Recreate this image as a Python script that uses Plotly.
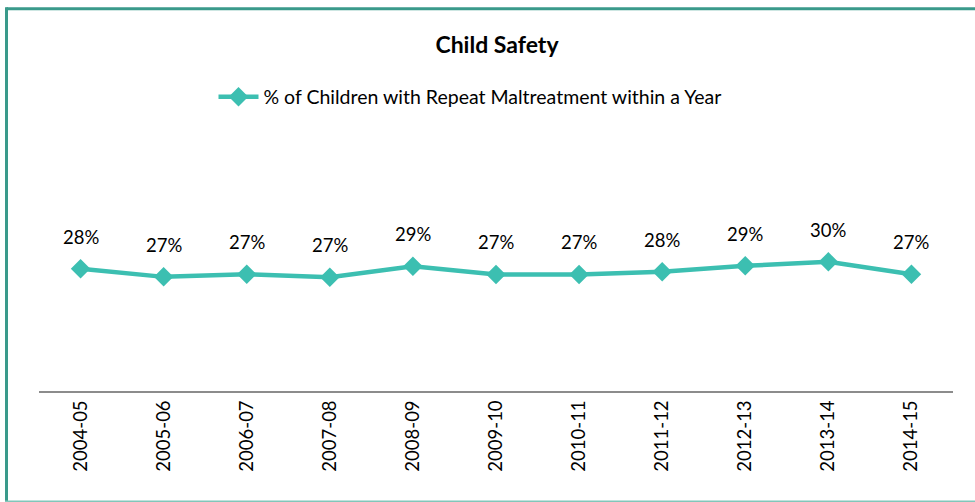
import plotly.graph_objects as go

years = ["2004-05", "2005-06", "2006-07", "2007-08", "2008-09", "2009-10",
         "2010-11", "2011-12", "2012-13", "2013-14", "2014-15"]
repeat_pct = [0.2822, 0.2662, 0.2716, 0.2655, 0.2876, 0.2710,
              0.2710, 0.2762, 0.2882, 0.2962, 0.2716]
series_name = "% of Children with Repeat Maltreatment within a Year"
title_text = "Child Safety"

LINE = "#3cbfb1"
FONT = "Lato"

fig = go.Figure()
fig.add_trace(go.Scatter(
    x=years, y=repeat_pct, mode="lines+markers", name=series_name,
    line=dict(color=LINE, width=4.5),
    marker=dict(symbol="diamond", size=15, color=LINE),
    showlegend=True,
))

for xv, yv in zip(years, repeat_pct):
    fig.add_annotation(x=xv, y=yv, text=f"{round(yv*100):.0f}%", showarrow=False,
                       yanchor="bottom", yshift=19,
                       font=dict(family=FONT, size=18.5, color="#000000"))

# plot area: x 39..953, y 130..390.7
W, H = 975, 502
ml, mr, mt, mb = 39, 22, 130, 111.3
pw, ph = W - ml - mr, H - mt - mb

def px(p):
    return (p - ml) / pw

def py(p):
    return (H - mb - p) / ph

dark = "#3a9a8b"
light = "#82c6ba"
fig.add_shape(type="line", xref="paper", yref="paper", x0=px(6.5), x1=px(980), y0=py(9), y1=py(9),
              line=dict(color=dark, width=3))
fig.add_shape(type="line", xref="paper", yref="paper", x0=px(6.5), x1=px(6.5), y0=py(7.5), y1=py(501),
              line=dict(color=dark, width=3))
fig.add_shape(type="line", xref="paper", yref="paper", x0=px(5), x1=px(980), y0=py(501), y1=py(501),
              line=dict(color=light, width=2))

fig.update_layout(
    width=W, height=H,
    margin=dict(l=ml, r=mr, t=mt, b=mb),
    paper_bgcolor="white", plot_bgcolor="white",
    title=dict(text=f"<b>{title_text}</b>", x=497 / W, xanchor="center", y=1 - 45 / H, yanchor="middle",
               font=dict(family=FONT, size=23, color="#000000")),
    legend=dict(orientation="h", x=px(470), xanchor="center", y=py(97), yanchor="middle",
                font=dict(family=FONT, size=19.5, color="#000000"), bgcolor="rgba(0,0,0,0)",
                itemwidth=40),
    showlegend=True,
    xaxis=dict(type="category", range=[-0.5, 10.5], showline=True, linecolor="#8c8c8c", linewidth=2,
               ticks="", tickangle=-90, showgrid=False, zeroline=False,
               tickfont=dict(family=FONT, size=18.5, color="#000000")),
    yaxis=dict(range=[0.0382, 0.5596], visible=False, showgrid=False, zeroline=False),
)

fig.write_html("out.html")
